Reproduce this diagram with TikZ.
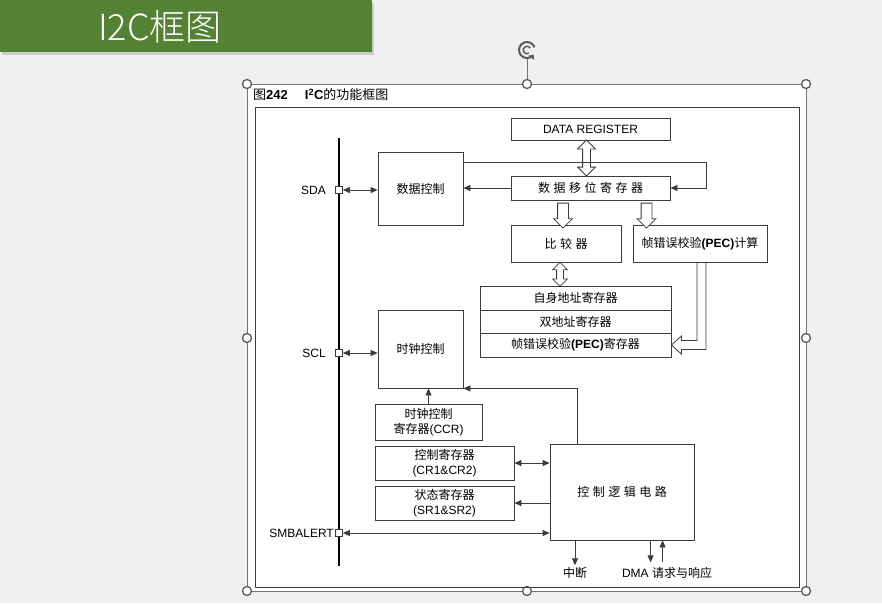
\documentclass[tikz,border=0pt]{standalone}
\usepackage{fontspec}
\setmainfont{Liberation Sans}
\newfontfamily\cjk{Noto Sans CJK SC}
\newfontfamily\cjklight{Noto Sans CJK SC}[UprightFont={* Light}]
\usetikzlibrary{arrows.meta, shapes.arrows, calc}

\definecolor{slidebg}{RGB}{240,240,240}
\definecolor{banner}{RGB}{84,130,53}
\definecolor{ink}{RGB}{60,60,60}
\definecolor{selgray}{RGB}{115,115,115}
\definecolor{hdlgray}{RGB}{90,90,90}

\newcommand\zh[1]{{\cjk #1}}
\newcommand\gap{\hspace{3.5pt}}

\begin{document}
\begin{tikzpicture}[
    x=1pt, y=-1pt,
    every node/.style={font=\fontsize{12}{15.5}\selectfont, text=black, inner sep=0pt},
    blk/.style={
        draw=ink, line width=0.8pt, fill=white, align=center
    },
    arr/.style={
        -{Triangle[length=7pt,width=6pt]},
        draw=ink, line width=0.8pt
    },
    darr/.style={
        {Triangle[length=7pt,width=6pt]}-{Triangle[length=7pt,width=6pt]},
        draw=ink, line width=0.8pt
    },
    hdarr/.style={
        double arrow, draw=ink, fill=white, line width=0.8pt,
        inner sep=3.5pt, double arrow head extend=5pt, minimum width=0pt
    },
    hsarr/.style={
        single arrow, draw=ink, fill=white, line width=0.8pt,
        inner sep=5pt, single arrow head extend=4pt, minimum width=0pt,
        rotate=-90
    },
    hol/.style={draw=ink, line width=0.8pt},
    pin/.style={draw=ink, fill=white, line width=0.7pt, minimum size=7pt},
    hdl/.style={
        circle, draw=hdlgray, fill=white, line width=1.3pt, minimum size=9pt
    }
]

%% ── Slide background and title banner ──────────────────────────────
\fill[slidebg] (0,0) rectangle (882,603);
\useasboundingbox (0,0) rectangle (882,603);
\fill[black, opacity=.15] (2,3) rectangle (374,55);
\node[fill=banner, minimum width=372pt, minimum height=52pt,
      anchor=north west] (banner) at (0,0) {};
\node[text=white, font=\cjklight\fontsize{36}{40}\selectfont] (title)
    at (160,27) {I2C框图};

%% ── Selected picture frame ──────────────────────────────────────────
\fill[white] (247,84) rectangle (806,591);
\draw[selgray, line width=1pt] (247,84) rectangle (806,591);

\foreach \hx/\hy in {247/84, 527/84, 806/84, 247/338, 806/338,
                     247/591, 527/591, 806/591}
    \node[hdl] (hdl-\hx-\hy) at (\hx,\hy) {};

\coordinate (rot) at (527,50);
\draw[hdlgray, line width=2pt, -{Triangle[length=4pt,width=7pt]}]
    ($(rot)+(20:8pt)$) arc[start angle=20, end angle=325, radius=8pt];
\draw[hdlgray, line width=1.5pt]
    ($(rot)+(30:3.8pt)$) arc[start angle=30, end angle=300, radius=3.8pt];
\draw[selgray] ($(rot)+(0,9)$) -- (hdl-527-84.north);

%% ── Figure caption and inner frame ──────────────────────────────────
\node[anchor=west, font=\fontsize{13}{15}\selectfont] (cap) at (253,95)
    {\zh{图}\textbf{242}\hspace{17pt}\textbf{I\textsuperscript{2}C}\zh{的功能框图}};
\draw[ink, line width=1pt] (255,107) rectangle (799,587);

%% ── Bus and pins ────────────────────────────────────────────────────
\coordinate (bustop) at (339,138);
\coordinate (busbot) at (339,566);
\draw[black, line width=2.4pt] (bustop) -- (busbot);

\node[pin] (sda) at (339,190) {};
\node[pin] (scl) at (339,353) {};
\node[pin] (smb) at (339,533) {};
\node[anchor=east] (sdal) at (326,190) {SDA};
\node[anchor=east] (scll) at (326,353) {SCL};
\node[anchor=east] (smbl) at (334,533) {SMBALERT};

%% ── Data path ───────────────────────────────────────────────────────
\node[blk, minimum width=159pt, minimum height=22pt] (dreg)
    at (590.5,129) {DATA REGISTER};
\node[blk, minimum width=159pt, minimum height=24pt] (shift)
    at (590.5,188) {\zh{数\gap 据\gap 移\gap 位\gap 寄\gap 存\gap 器}};
\node[blk, minimum width=85pt, minimum height=73pt] (dctl)
    at (420.5,188.5) {\zh{数据控制}};
\node[blk, minimum width=110pt, minimum height=37pt] (cmp)
    at (566,243.5) {\zh{比\gap 较\gap 器}};
\node[blk, minimum width=134pt, minimum height=37pt] (pecc)
    at (700,243.5) {\zh{帧错误校验}\textbf{(PEC)}\zh{计算}};

\node[blk, minimum width=191pt, minimum height=24pt] (own)
    at (575.5,298) {\zh{自身地址寄存器}};
\node[blk, minimum width=191pt, minimum height=23pt] (dual)
    at (575.5,321.5) {\zh{双地址寄存器}};
\node[blk, minimum width=191pt, minimum height=24pt] (pecr)
    at (575.5,345) {\zh{帧错误校验}\textbf{(PEC)}\zh{寄存器}};

\node[hdarr, rotate=90, minimum height=36pt] (dx)
    at ($(dreg.south)!.5!(shift.north)+(-4,0)$) {};
\node[hsarr, minimum height=25pt] (tocmp) at ($(shift.south)+(-27.5,12.5)$) {};
\node[hsarr, minimum height=25pt] (topec) at ($(shift.south)+(56,12.5)$) {};
\node[hdarr, rotate=90, minimum height=24pt, inner sep=3pt,
      double arrow head extend=4pt] (cx) at ($(cmp.south)+(-6,12)$) {};

\draw[hol] ($(pecc.south)+(-3,0)$) |- ($(pecr.east)+(10,-4.5)$)
    -- ($(pecr.east)+(10,-9)$) -- (pecr.east) -- ($(pecr.east)+(10,9)$)
    -- ($(pecr.east)+(10,4.5)$) -| ($(pecc.south)+(6,0)$);

\draw[darr] (sda.east) -- (sda.east -| dctl.west);
\draw[arr] (shift.west) -- (shift.west -| dctl.east);
\draw[arr] ($(dctl.north east)+(0,11)$) -- ++(243,0) |- (shift.east);

%% ── Clock and control ───────────────────────────────────────────────
\node[blk, minimum width=85pt, minimum height=78pt] (clk)
    at (420.5,349) {\zh{时钟控制}};
\node[blk, minimum width=107pt, minimum height=36pt] (ccr)
    at (428.5,422) {\zh{时钟控制}\\\zh{寄存器}(CCR)};
\node[blk, minimum width=139pt, minimum height=34pt] (cr)
    at (444.5,463) {\zh{控制寄存器}\\(CR1\&CR2)};
\node[blk, minimum width=139pt, minimum height=34pt] (sreg)
    at (444.5,503) {\zh{状态寄存器}\\(SR1\&SR2)};
\node[blk, minimum width=144pt, minimum height=96pt] (ctl)
    at (622,492) {\zh{控\gap 制\gap 逻\gap 辑\gap 电\gap 路}};

\node[inner sep=2pt] (irq) at (575,573) {\zh{中断}};
\node[inner sep=2pt] (dma) at (667,573) {DMA \zh{请求与响应}};

\draw[darr] (scl.east) -- (scl.east -| clk.west);
\draw[arr] (ccr.north) -- (ccr.north |- clk.south);
\draw[arr] ($(ctl.north west)+(28,0)$) |- (clk.south east);
\draw[darr] (cr.east) -- (cr.east -| ctl.west);
\draw[arr] (sreg.east -| ctl.west) -- (sreg.east);
\draw[darr] (smb.east) -- (smb.east -| ctl.west);
\draw[arr] (irq.north |- ctl.south) -- (irq.north);
\draw[arr] ($(ctl.south west)+(101,0)$) -- ++(0,22);
\draw[arr] ($(ctl.south west)+(113,22)$) -- ++(0,-22);

\end{tikzpicture}
\end{document}
